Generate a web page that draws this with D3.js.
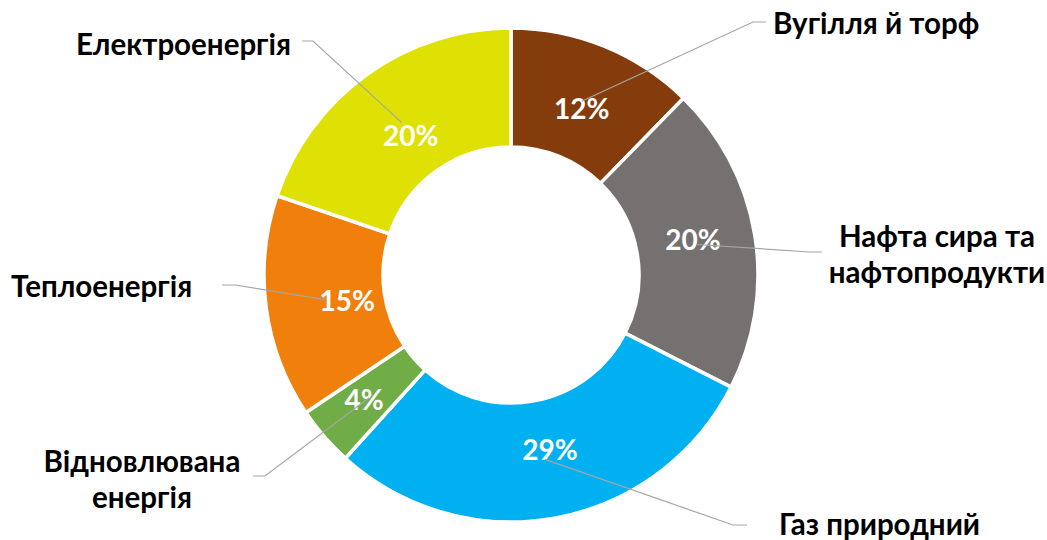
<!DOCTYPE html>
<html>
<head>
<meta charset="utf-8">
<script src="https://cdn.jsdelivr.net/npm/d3@7"></script>
<style>
  body { margin: 0; background: #fff; }
  svg { display: block; }
  .cat { font-family: Lato, "Open Sans", sans-serif; font-weight: bold; fill: #000; }
  .pct { font-family: Lato, "Open Sans", sans-serif; font-weight: bold; fill: #fff; }
</style>
</head>
<body>
<div id="chart"></div>
<script>
var categories = ['Вугілля й торф', 'Нафта сира та нафтопродукти', 'Газ природний',
    'Відновлювана енергія', 'Теплоенергія', 'Електроенергія'];
var shares = [12.3, 20.2, 29.2, 3.9, 14.6, 19.8];
var pctLabels = ['12%', '20%', '29%', '4%', '15%', '20%'];
var labelLines = [['Вугілля й торф'], ['Нафта сира та', 'нафтопродукти'], ['Газ природний'],
    ['Відновлювана', 'енергія'], ['Теплоенергія'], ['Електроенергія']];
var colors = ['#843c0c', '#767171', '#00b0f0', '#70ad47', '#f17f0b', '#dfe104'];

// manual label placement (like dragged labels in the original)
var catPos = [[773, 34, 'start'], [937, 247, 'middle'], [779, 535, 'start'],
    [142, 472, 'middle'], [11, 297, 'start'], [291, 55, 'end']];
var elbow = [[753, 766, 22], [810, 822, 252], [733, 747, 525],
    [265, 253, 476], [235, 222, 285], [313, 302, 41]];
var pctNudge = [[0, 8], [-3, -4], [5, -9], [-5, 3], [22, 2], [9, 14]];

var width = 1047;
var height = 540;
var cx = 511;
var cy = 275;
var outerR = 247;
var innerR = 128;

var svg = d3.select('#chart').append('svg')
    .attr('width', width)
    .attr('height', height);

var g = svg.append('g').attr('transform', `translate(${cx},${cy})`);

var pie = d3.pie().sort(null).value(d => d);
var arcs = pie(shares);
var arc = d3.arc().innerRadius(innerR).outerRadius(outerR);

g.selectAll('path.slice')
    .data(arcs)
    .enter()
    .append('path')
    .attr('class', 'slice')
    .attr('d', arc)
    .attr('fill', (d, i) => colors[i])
    .attr('stroke', '#fff')
    .attr('stroke-width', 3.5);

// leader lines: centroid -> elbow -> short horizontal
arcs.forEach((d, i) => {
    var c = arc.centroid(d);
    var e = elbow[i];
    var pts = [[c[0] + cx, c[1] + cy], [e[0], e[2]], [e[1], e[2]]];
    svg.append('path')
        .attr('d', d3.line()(pts))
        .attr('fill', 'none')
        .attr('stroke', '#a6a6a6')
        .attr('stroke-width', 1.2);
});

g.selectAll('text.pct')
    .data(arcs)
    .enter()
    .append('text')
    .attr('class', 'pct')
    .attr('x', (d, i) => arc.centroid(d)[0] + pctNudge[i][0])
    .attr('y', (d, i) => arc.centroid(d)[1] + pctNudge[i][1])
    .attr('dy', '0.35em')
    .attr('text-anchor', 'middle')
    .attr('font-size', 28)
    .text((d, i) => pctLabels[i]);

labelLines.forEach((lines, i) => {
    var p = catPos[i];
    var t = svg.append('text')
        .attr('class', 'cat')
        .attr('x', p[0])
        .attr('y', p[1])
        .attr('text-anchor', p[2])
        .attr('font-size', 29.5);
    lines.forEach((s, j) => {
        t.append('tspan')
            .attr('x', p[0])
            .attr('dy', j === 0 ? 0 : 36)
            .text(s);
    });
});
</script>
</body>
</html>
